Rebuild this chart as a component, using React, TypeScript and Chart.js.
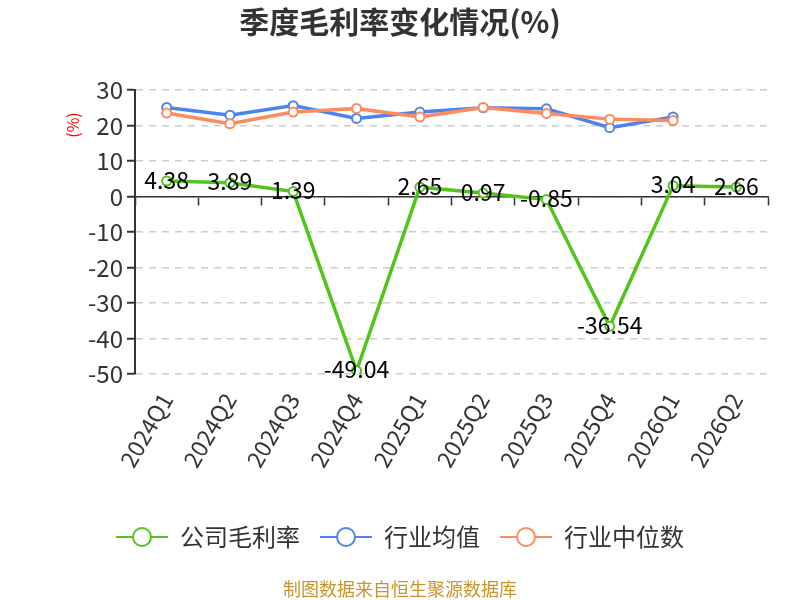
import { useEffect, useRef } from "react"
import { Chart, registerables } from "chart.js"

Chart.register(...registerables)

const quarters = ["2024Q1", "2024Q2", "2024Q3", "2024Q4", "2025Q1", "2025Q2", "2025Q3", "2025Q4", "2026Q1", "2026Q2"]
const companyMargin = [4.38, 3.89, 1.39, -49.04, 2.65, 0.97, -0.85, -36.54, 3.04, 2.66]
const industryMean = [25.1, 22.9, 25.6, 22.0, 23.8, 25.0, 24.7, 19.4, 22.4, null]
const industryMedian = [23.5, 20.5, 23.8, 24.8, 22.4, 25.1, 23.4, 21.8, 21.4, null]
const yTicks = [30, 20, 10, 0, -10, -20, -30, -40, -50]

const GREEN = "#52c41a"
const BLUE = "#4f83ec"
const ORANGE = "#ff8a5b"
const FONT = "'Noto Sans CJK SC', 'Noto Sans', sans-serif"

// line + hollow circle, like the legend markers in the original
function legendMarker(color: string) {
  const c = document.createElement("canvas")
  c.width = 52
  c.height = 22
  const ctx = c.getContext("2d")!
  ctx.strokeStyle = color
  ctx.lineWidth = 2
  ctx.beginPath()
  ctx.moveTo(0, 11)
  ctx.lineTo(52, 11)
  ctx.stroke()
  ctx.beginPath()
  ctx.arc(26, 11, 9, 0, Math.PI * 2)
  ctx.fillStyle = "#fff"
  ctx.fill()
  ctx.stroke()
  return c
}

const extrasPlugin = {
  id: "extras",
  afterDatasetsDraw(chart: any) {
    const { ctx } = chart
    const meta = chart.getDatasetMeta(0)
    ctx.save()
    ctx.font = `23px ${FONT}`
    ctx.fillStyle = "#000"
    ctx.textAlign = "center"
    ctx.textBaseline = "middle"
    meta.data.forEach((pt: any, i: number) => {
      const v = companyMargin[i]
      if (v == null) return
      ctx.fillText(String(v), pt.x, pt.y - 1)
    })
    ctx.restore()
  },
  afterDraw(chart: any) {
    const { ctx } = chart
    ctx.save()
    // unit label on the y axis
    ctx.translate(73, 125)
    ctx.rotate(-Math.PI / 2)
    ctx.font = `16px ${FONT}`
    ctx.fillStyle = "#ff0000"
    ctx.textAlign = "center"
    ctx.textBaseline = "middle"
    ctx.fillText("(%)", 0, 0)
    ctx.restore()

    ctx.save()
    ctx.font = `18px ${FONT}`
    ctx.fillStyle = "#c8962c"
    ctx.textAlign = "center"
    ctx.textBaseline = "middle"
    ctx.fillText("制图数据来自恒生聚源数据库", 400, 589)
    ctx.restore()
  },
}

export default function App() {
  const canvasRef = useRef<HTMLCanvasElement>(null)
  const chartRef = useRef<Chart | null>(null)

  useEffect(() => {
    document.body.style.margin = "0"
    if (!canvasRef.current) return
    if (chartRef.current) chartRef.current.destroy()

    const markers = [legendMarker(GREEN), legendMarker(BLUE), legendMarker(ORANGE)]

    const lineStyle = (color: string) => ({
      borderColor: color,
      backgroundColor: color,
      borderWidth: 3.5,
      pointRadius: 4.5,
      pointBorderWidth: 2,
      pointBackgroundColor: "#fff",
      pointBorderColor: color,
      tension: 0,
      spanGaps: false,
    })

    chartRef.current = new Chart(canvasRef.current, {
      type: "line",
      data: {
        labels: quarters,
        datasets: [
          { label: "公司毛利率", data: companyMargin, ...lineStyle(GREEN), order: 3 },
          { label: "行业均值", data: industryMean, ...lineStyle(BLUE), order: 2 },
          { label: "行业中位数", data: industryMedian, ...lineStyle(ORANGE), order: 1 },
        ],
      },
      options: {
        responsive: false,
        animation: false,
        layout: { padding: { left: 32, right: 32, top: 0, bottom: 41 } },
        plugins: {
          title: {
            display: true,
            text: "季度毛利率变化情况(%)",
            color: "#333",
            font: { family: FONT, size: 30, weight: "bold" },
            padding: { top: 4, bottom: 50 },
          },
          legend: {
            position: "bottom",
            labels: {
              usePointStyle: true,
              pointStyleWidth: 52,
              padding: 20,
              color: "#333",
              font: { family: FONT, size: 24 },
              sort: (a: any, b: any) => a.datasetIndex - b.datasetIndex,
              generateLabels: (chart: any) =>
                Chart.defaults.plugins.legend.labels
                  .generateLabels(chart)
                  .map((item: any) => ({ ...item, pointStyle: markers[item.datasetIndex] })),
            },
          },
          tooltip: { enabled: false },
        },
        scales: {
          x: {
            type: "category",
            offset: true,
            border: { display: false },
            grid: { display: false },
            ticks: {
              color: "#333",
              font: { family: FONT, size: 23 },
              minRotation: 60,
              maxRotation: 60,
              padding: 6,
            },
            afterFit: (scale: any) => {
              scale.height += 27
            },
          },
          x0: {
            type: "category",
            position: { y: 0 },
            offset: true,
            border: { display: true, color: "#333", width: 1.5 },
            grid: { display: true, offset: true, drawOnChartArea: false, drawTicks: true, tickLength: 8, tickColor: "#333", tickWidth: 1.5 },
            ticks: { display: false },
          },
          y: {
            min: -50,
            max: 30,
            afterBuildTicks: (scale: any) => {
              scale.ticks = yTicks.map((v) => ({ value: v }))
            },
            afterFit: (scale: any) => {
              scale.width = 103
            },
            border: { display: true, color: "#333", width: 2, dash: [7, 6] },
            grid: { color: "#cccccc", lineWidth: 1.5, tickLength: 8, tickColor: "#333", tickWidth: 2 },
            ticks: {
              color: "#333",
              font: { family: FONT, size: 24 },
              padding: 4,
            },
          },
        },
      } as any,
      plugins: [extrasPlugin],
    })

    return () => {
      if (chartRef.current) {
        chartRef.current.destroy()
        chartRef.current = null
      }
    }
  }, [])

  return (
    <div style={{ width: 800, height: 600, background: "#fff" }}>
      <canvas ref={canvasRef} width={800} height={600}></canvas>
    </div>
  )
}
